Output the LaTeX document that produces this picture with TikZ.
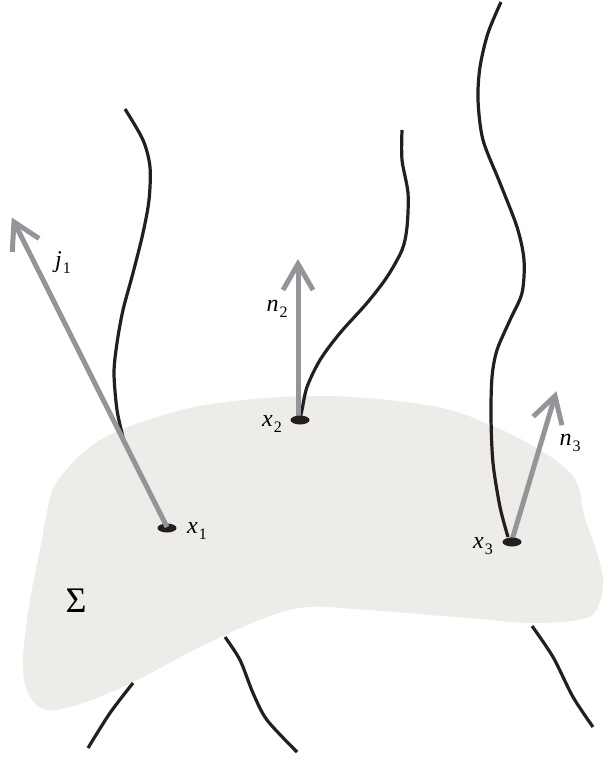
\documentclass[tikz,border=0pt]{standalone}
\usepackage{fontspec}
\setmainfont{Liberation Serif}
\usetikzlibrary{calc,shapes.geometric}
\definecolor{surf}{HTML}{EDECE9}
\definecolor{arrgray}{HTML}{939598}
\definecolor{ink}{HTML}{231F20}
\newcommand{\lbl}[2]{{\fontsize{24}{24}\selectfont\itshape #1}\kern1pt\raisebox{-6pt}{\fontsize{16}{16}\selectfont #2}}
\begin{document}
\begin{tikzpicture}[x=1pt,y=-1pt,
  strand/.style={draw=ink,line width=3.2pt},
  vec/.style={draw=arrgray,line width=5pt,line join=miter},
  dot/.style={ellipse,fill=ink,inner sep=0pt,minimum width=19pt,minimum height=9pt},
  lab/.style={inner sep=0pt}]
\useasboundingbox (0,0) rectangle (604,760);
% surface
\fill[surf] plot[smooth cycle,tension=0.6] coordinates {
 (100,440) (167,414) (233,401) (330,396) (433,406) (493,426) (533,446) (563,466) (578,485) (584,515) (596,550) (603,580)
 (598,607) (583,619) (533,623) (467,618) (367,610) (310,607) (267,617) (200,647) (133,682) (83,703) (47,710) (28,693) (23,660) (30,600) (40,550) (47,512) (58,480)};
% strands above
\draw[strand] plot[smooth] coordinates {(125,109) (143,140) (150,167) (149,200) (143,233) (133,273) (123,310) (117,343) (114,373) (117,410) (123,437)};
\draw[strand] plot[smooth] coordinates {(402,130) (402,160) (408,193) (407,227) (402,250) (387,277) (367,303) (340,333) (320,360) (307,387) (302,410) (300,418)};
\draw[strand] plot[smooth] coordinates {(501,2) (488,33) (480,67) (478,100) (483,140) (500,183) (517,227) (524,260) (522,293) (510,320) (497,350) (492,377) (491,417) (493,463) (500,507) (508,537)};
% strands below
\draw[strand] plot[smooth] coordinates {(133,683) (110,713) (88,748)};
\draw[strand] plot[smooth] coordinates {(225,637) (240,660) (253,693) (267,720) (297,752)};
\draw[strand] plot[smooth] coordinates {(532,626) (553,657) (573,697) (593,727)};
% points
\coordinate (b2) at (298,418);
\coordinate (t2) at (298,264);
\coordinate (b3) at (512,540);
\coordinate (t3) at (555,396);
\coordinate (b1) at (167,527);
\coordinate (t1) at (14,222);
\draw[vec] (b2) -- (t2);
\draw[vec] ($(t2)!30pt!30:(b2)$) -- (t2) -- ($(t2)!30pt!-30:(b2)$);
\draw[vec] (b3) -- (t3);
\draw[vec] ($(t3)!30pt!30:(b3)$) -- (t3) -- ($(t3)!30pt!-30:(b3)$);
\node[dot] (x1) at (167,528) {};
\node[dot] (x2) at (300,420) {};
\node[dot] (x3) at (512,542) {};
\draw[vec] (b1) -- (t1);
\draw[vec] ($(t1)!30pt!30:(b1)$) -- (t1) -- ($(t1)!30pt!-30:(b1)$);
% labels
\node[lab] (lj1) at (63,263) {\lbl{j}{1}};
\node[lab] (ln2) at (277,309) {\lbl{n}{2}};
\node[lab] (lx2) at (272,424) {\lbl{x}{2}};
\node[lab] (lx1) at (197,531) {\lbl{x}{1}};
\node[lab] (lx3) at (483,546) {\lbl{x}{3}};
\node[lab] (ln3) at (570,443) {\lbl{n}{3}};
\node[lab] (sig) at (76,601) {\fontsize{36}{36}\selectfont Σ};
\end{tikzpicture}
\end{document}
